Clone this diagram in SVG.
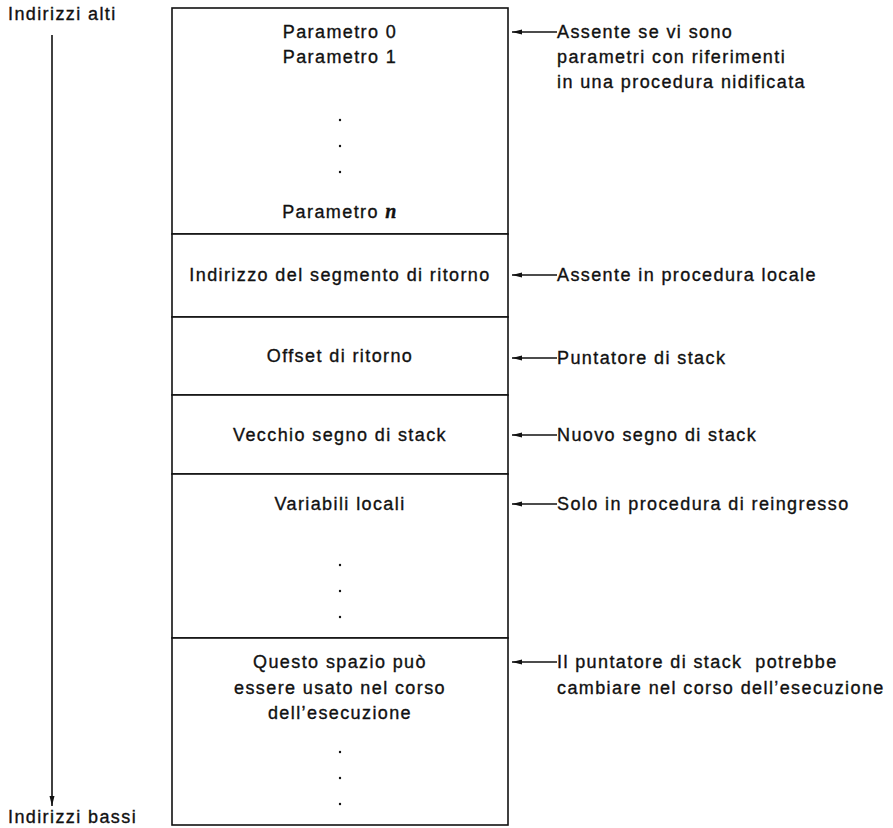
<svg xmlns="http://www.w3.org/2000/svg" width="893" height="828" viewBox="0 0 893 828">
<defs>
<marker id="ah" markerWidth="10" markerHeight="6" refX="10" refY="3" orient="auto" markerUnits="userSpaceOnUse">
<path d="M0,0.5 L10,3 L0,5.5 Z" fill="#111"/>
</marker>
<style>
text{font-family:"Liberation Sans",Arial,sans-serif;font-size:18px;letter-spacing:1.4px;fill:#111;stroke:#111;stroke-width:0.35}
.c{text-anchor:middle}
.box{fill:#fff;stroke:#111;stroke-width:1.6}
.ln{stroke:#111;stroke-width:1.6;fill:none}
.dot{fill:#111}
</style>
</defs>
<rect width="893" height="828" fill="#fff"/>
<g id="axis">
<text x="8" y="20">Indirizzi alti</text>
<line class="ln" x1="52" y1="35" x2="52" y2="806" stroke-width="2.2" marker-end="url(#ah)"/>
<text x="8" y="823">Indirizzi bassi</text>
</g>
<g id="params">
<rect class="box" x="172" y="8" width="336" height="226"/>
<text class="c" x="340" y="38">Parametro 0</text>
<text class="c" x="340" y="63">Parametro 1</text>
<circle class="dot" cx="340" cy="120" r="1.2"/>
<circle class="dot" cx="340" cy="146" r="1.2"/>
<circle class="dot" cx="340" cy="172" r="1.2"/>
<text class="c" x="340" y="218">Parametro <tspan font-family="'Liberation Serif',serif" font-style="italic" font-weight="bold" font-size="20">n</tspan></text>
</g>
<g id="segmento">
<rect class="box" x="172" y="234" width="336" height="83"/>
<text class="c" x="340" y="281">Indirizzo del segmento di ritorno</text>
</g>
<g id="offset">
<rect class="box" x="172" y="317" width="336" height="78"/>
<text class="c" x="340" y="362">Offset di ritorno</text>
</g>
<g id="vecchio">
<rect class="box" x="172" y="395" width="336" height="79"/>
<text class="c" x="340" y="441">Vecchio segno di stack</text>
</g>
<g id="variabili">
<rect class="box" x="172" y="474" width="336" height="164"/>
<text class="c" x="340" y="510">Variabili locali</text>
<circle class="dot" cx="340" cy="565" r="1.2"/>
<circle class="dot" cx="340" cy="591" r="1.2"/>
<circle class="dot" cx="340" cy="617" r="1.2"/>
</g>
<g id="spazio">
<rect class="box" x="172" y="638" width="336" height="187"/>
<text class="c" x="340" y="668">Questo spazio può</text>
<text class="c" x="340" y="694">essere usato nel corso</text>
<text class="c" x="340" y="719">dell’esecuzione</text>
<circle class="dot" cx="340" cy="752" r="1.2"/>
<circle class="dot" cx="340" cy="778" r="1.2"/>
<circle class="dot" cx="340" cy="804" r="1.2"/>
</g>
<g id="connectors">
<line class="ln" x1="557" y1="32" x2="512" y2="32" marker-end="url(#ah)"/>
<line class="ln" x1="557" y1="275" x2="512" y2="275" marker-end="url(#ah)"/>
<line class="ln" x1="557" y1="358" x2="512" y2="358" marker-end="url(#ah)"/>
<line class="ln" x1="557" y1="435" x2="512" y2="435" marker-end="url(#ah)"/>
<line class="ln" x1="557" y1="504" x2="512" y2="504" marker-end="url(#ah)"/>
<line class="ln" x1="557" y1="662" x2="512" y2="662" marker-end="url(#ah)"/>
</g>
<g id="notes">
<text x="557" y="38">Assente se vi sono</text>
<text x="557" y="63">parametri con riferimenti</text>
<text x="557" y="88">in una procedura nidificata</text>
<text x="557" y="281">Assente in procedura locale</text>
<text x="557" y="364">Puntatore di stack</text>
<text x="557" y="441">Nuovo segno di stack</text>
<text x="557" y="510">Solo in procedura di reingresso</text>
<text x="557" y="668" style="white-space:pre">Il puntatore di stack  potrebbe</text>
<text x="557" y="694">cambiare nel corso dell’esecuzione</text>
</g>
</svg>
